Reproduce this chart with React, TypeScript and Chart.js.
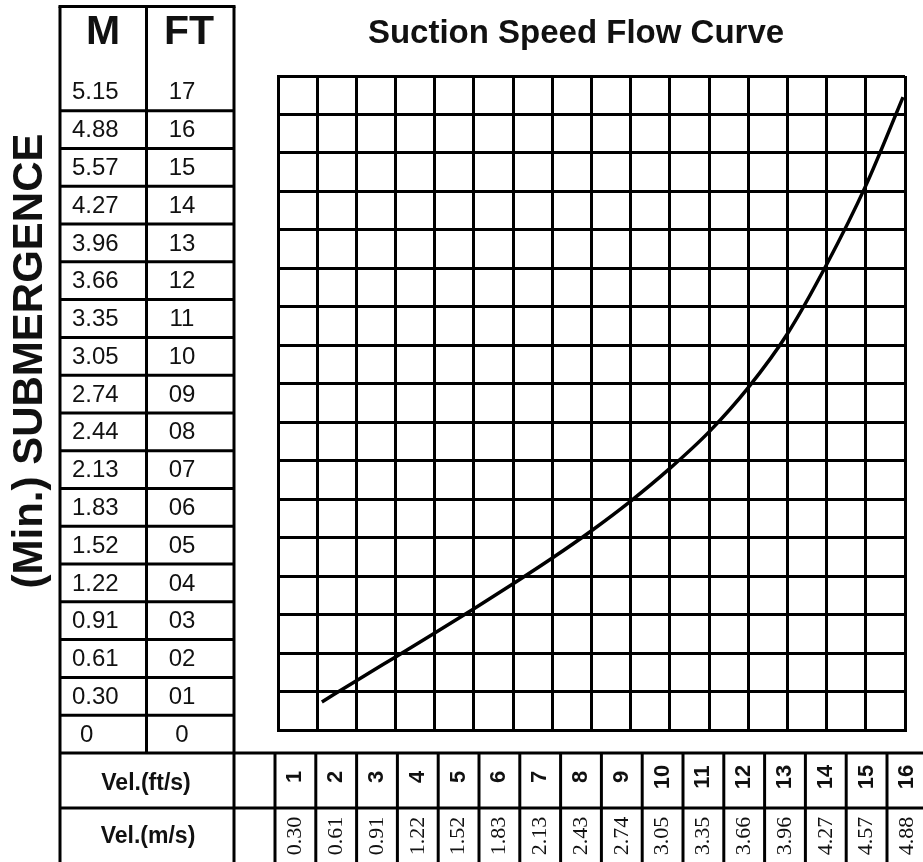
import React, { useEffect, useRef } from "react";
import { Chart, registerables } from "chart.js";
Chart.register(...registerables);

// ---------- data ----------
const TITLE = "Suction Speed Flow Curve";
const AXIS_LABEL = "(Min.) SUBMERGENCE";
const M_HEADER = "M";
const FT_HEADER = "FT";
const depthM = ["5.15", "4.88", "5.57", "4.27", "3.96", "3.66", "3.35", "3.05", "2.74", "2.44", "2.13", "1.83", "1.52", "1.22", "0.91", "0.61", "0.30", "0"];
const depthFt = ["17", "16", "15", "14", "13", "12", "11", "10", "09", "08", "07", "06", "05", "04", "03", "02", "01", "0"];
const VEL_FT_LABEL = "Vel.(ft/s)";
const VEL_M_LABEL = "Vel.(m/s)";
const velFt = ["1", "2", "3", "4", "5", "6", "7", "8", "9", "10", "11", "12", "13", "14", "15", "16"];
const velMs = ["0.30", "0.61", "0.91", "1.22", "1.52", "1.83", "2.13", "2.43", "2.74", "3.05", "3.35", "3.66", "3.96", "4.27", "4.57", "4.88"];
// grid: columns centred on integer velocities (ft/s), rows = submergence (ft)
const xGrid = [0.5, 1.5, 2.5, 3.5, 4.5, 5.5, 6.5, 7.5, 8.5, 9.5, 10.5, 11.5, 12.5, 13.5, 14.5, 15.5, 16.5];
const yGrid = [0, 1, 2, 3, 4, 5, 6, 7, 8, 9, 10, 11, 12, 13, 14, 15, 16, 17];
// curve
const curveVel = [1.62, 2.5, 3.5, 4.5, 5.5, 6.5, 7.5, 8.5, 9.5, 10.5, 11.5, 12.5, 13.5, 14.5, 15.5, 16.45];
const curveSub = [0.73, 1.28, 1.9, 2.52, 3.15, 3.8, 4.47, 5.18, 5.95, 6.8, 7.75, 8.9, 10.3, 12.1, 14.15, 16.45];

const FONT = "'Liberation Sans', Arial, sans-serif";
const SERIF = "'Liberation Serif', 'Times New Roman', serif";

function txt(
  ctx: CanvasRenderingContext2D,
  s: string,
  x: number,
  y: number,
  font: string,
  align: CanvasTextAlign = "center",
  rot = 0,
  color = "#111"
) {
  ctx.save();
  ctx.translate(x, y);
  if (rot) ctx.rotate(rot);
  ctx.font = font;
  ctx.fillStyle = color;
  ctx.textAlign = align;
  ctx.textBaseline = "middle";
  ctx.fillText(s, 0, 0);
  ctx.restore();
}

function line(ctx: CanvasRenderingContext2D, x1: number, y1: number, x2: number, y2: number) {
  ctx.beginPath();
  ctx.moveTo(x1, y1);
  ctx.lineTo(x2, y2);
  ctx.stroke();
}

const tablePlugin = {
  id: "tables",
  afterDraw(chart: any) {
    const ctx: CanvasRenderingContext2D = chart.ctx;
    const W = chart.width;
    const H = chart.height;
    ctx.save();
    ctx.strokeStyle = "#000";
    ctx.lineWidth = 3;
    // left table
    const L = 60, MID = 146.5, R = 234, TOP = 6.5;
    const rowB = (i: number) => 110.7 + i * 37.78;
    const tableBottom = rowB(depthFt.length - 1);
    line(ctx, L - 1.5, TOP, R + 1.5, TOP);
    line(ctx, L, TOP, L, H);
    line(ctx, MID, TOP, MID, tableBottom);
    line(ctx, R, TOP, R, H);
    for (let i = 0; i < depthFt.length - 1; i++) line(ctx, L, rowB(i), R, rowB(i));
    // bottom table
    const BT = tableBottom, BM = 808;
    line(ctx, L, BT, W, BT);
    line(ctx, L, BM, W, BM);
    const C0 = 275, CW = 40.8;
    for (let j = 0; j <= velFt.length; j++) line(ctx, C0 + j * CW, BT, C0 + j * CW, H);
    ctx.restore();

    // header texts
    txt(ctx, M_HEADER, 103, 33, `bold 41px ${FONT}`);
    txt(ctx, FT_HEADER, 189, 33, `bold 41px ${FONT}`);
    for (let i = 0; i < depthFt.length; i++) {
      const top = i === 0 ? TOP : rowB(i - 1);
      const cy = i === 0 ? 92 : (top + rowB(i)) / 2 + 1;
      const m = depthM[i];
      txt(ctx, m, m.length === 1 ? 80 : 72, cy, `24px ${FONT}`, "left");
      txt(ctx, depthFt[i], 182, cy, `24px ${FONT}`);
    }
    // axis label
    txt(ctx, AXIS_LABEL, 30, 361, `bold 42px ${FONT}`, "center", -Math.PI / 2);
    // title
    txt(ctx, TITLE, 576, 34, `bold 33px ${FONT}`);
    // bottom labels
    txt(ctx, VEL_FT_LABEL, 146, 784, `bold 23px ${FONT}`);
    txt(ctx, VEL_M_LABEL, 148, 837, `bold 23px ${FONT}`);
    for (let j = 0; j < velFt.length; j++) {
      const cx = C0 + j * CW + CW / 2;
      txt(ctx, velFt[j], cx, 777, `bold 22px ${FONT}`, "center", -Math.PI / 2);
      txt(ctx, velMs[j], cx, 836, `22px ${SERIF}`, "center", -Math.PI / 2);
    }
  },
};

export default function App() {
  const ref = useRef<HTMLCanvasElement | null>(null);
  useEffect(() => {
    if (!ref.current) return;
    const chart = new Chart(ref.current, {
      type: "line",
      data: {
        datasets: [
          {
            data: curveVel.map((v, i) => ({ x: v, y: curveSub[i] })),
            borderColor: "#000",
            borderWidth: 3.5,
            pointRadius: 0,
            cubicInterpolationMode: "monotone",
            fill: false,
          },
        ],
      },
      options: {
        animation: false,
        responsive: false,
        devicePixelRatio: 1,
        layout: { padding: { left: 278, top: 76, right: 18, bottom: 132 } },
        plugins: { legend: { display: false }, tooltip: { enabled: false }, title: { display: false } },
        scales: {
          x: {
            type: "linear",
            min: xGrid[0],
            max: xGrid[xGrid.length - 1],
            ticks: { display: false, autoSkip: false },
            afterBuildTicks: (s: any) => {
              s.ticks = xGrid.map((v) => ({ value: v }));
            },
            grid: { color: "#000", lineWidth: 3, drawTicks: false },
            border: { display: true, color: "#000", width: 3 },
            afterFit: (s: any) => {
              s.height = 0;
            },
          },
          y: {
            type: "linear",
            min: yGrid[0],
            max: yGrid[yGrid.length - 1],
            ticks: { display: false, autoSkip: false },
            afterBuildTicks: (s: any) => {
              s.ticks = yGrid.map((v) => ({ value: v }));
            },
            grid: { color: "#000", lineWidth: 3, drawTicks: false },
            border: { display: true, color: "#000", width: 3 },
            afterFit: (s: any) => {
              s.width = 0;
            },
          },
        },
      },
      plugins: [tablePlugin],
    } as any);
    return () => chart.destroy();
  }, []);
  return (
    <div style={{ position: "absolute", left: 0, top: 0, width: 923, height: 862, background: "#fff" }}>
      <canvas ref={ref} width={923} height={862} style={{ display: "block" }} />
    </div>
  );
}
